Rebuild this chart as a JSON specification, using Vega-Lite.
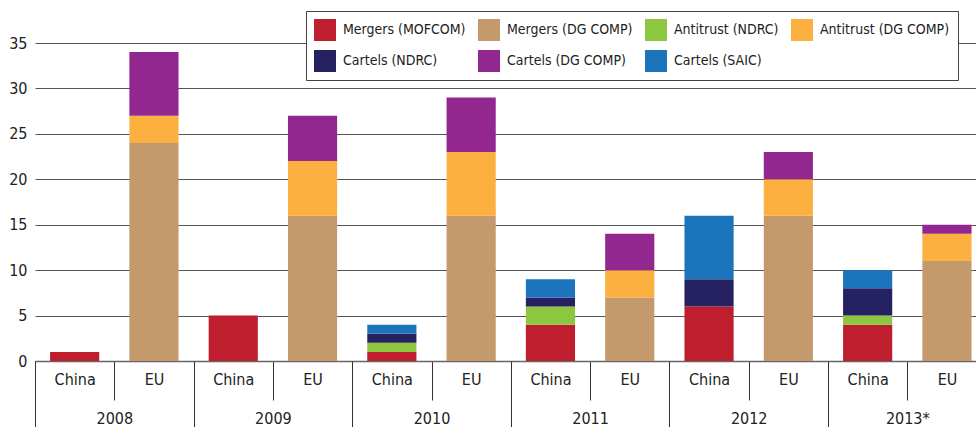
{
  "$schema": "https://vega.github.io/schema/vega-lite/v6.json",
  "width": 941,
  "height": 318,
  "autosize": {"type": "none"},
  "padding": {"left": 35, "top": 43, "right": 0, "bottom": 66},
  "background": "white",
  "config": {
    "font": "DejaVu Sans Condensed, Roboto, sans-serif",
    "view": {"stroke": null}
  },
  "data": {
    "values": [
      {"year": "2008", "region": "China", "bar": "2008 China", "type": "Mergers (MOFCOM)", "value": 1},
      {"year": "2008", "region": "EU", "bar": "2008 EU", "type": "Mergers (DG COMP)", "value": 24},
      {"year": "2008", "region": "EU", "bar": "2008 EU", "type": "Antitrust (DG COMP)", "value": 3},
      {"year": "2008", "region": "EU", "bar": "2008 EU", "type": "Cartels (DG COMP)", "value": 7},
      {"year": "2009", "region": "China", "bar": "2009 China", "type": "Mergers (MOFCOM)", "value": 5},
      {"year": "2009", "region": "EU", "bar": "2009 EU", "type": "Mergers (DG COMP)", "value": 16},
      {"year": "2009", "region": "EU", "bar": "2009 EU", "type": "Antitrust (DG COMP)", "value": 6},
      {"year": "2009", "region": "EU", "bar": "2009 EU", "type": "Cartels (DG COMP)", "value": 5},
      {"year": "2010", "region": "China", "bar": "2010 China", "type": "Mergers (MOFCOM)", "value": 1},
      {"year": "2010", "region": "China", "bar": "2010 China", "type": "Antitrust (NDRC)", "value": 1},
      {"year": "2010", "region": "China", "bar": "2010 China", "type": "Cartels (NDRC)", "value": 1},
      {"year": "2010", "region": "China", "bar": "2010 China", "type": "Cartels (SAIC)", "value": 1},
      {"year": "2010", "region": "EU", "bar": "2010 EU", "type": "Mergers (DG COMP)", "value": 16},
      {"year": "2010", "region": "EU", "bar": "2010 EU", "type": "Antitrust (DG COMP)", "value": 7},
      {"year": "2010", "region": "EU", "bar": "2010 EU", "type": "Cartels (DG COMP)", "value": 6},
      {"year": "2011", "region": "China", "bar": "2011 China", "type": "Mergers (MOFCOM)", "value": 4},
      {"year": "2011", "region": "China", "bar": "2011 China", "type": "Antitrust (NDRC)", "value": 2},
      {"year": "2011", "region": "China", "bar": "2011 China", "type": "Cartels (NDRC)", "value": 1},
      {"year": "2011", "region": "China", "bar": "2011 China", "type": "Cartels (SAIC)", "value": 2},
      {"year": "2011", "region": "EU", "bar": "2011 EU", "type": "Mergers (DG COMP)", "value": 7},
      {"year": "2011", "region": "EU", "bar": "2011 EU", "type": "Antitrust (DG COMP)", "value": 3},
      {"year": "2011", "region": "EU", "bar": "2011 EU", "type": "Cartels (DG COMP)", "value": 4},
      {"year": "2012", "region": "China", "bar": "2012 China", "type": "Mergers (MOFCOM)", "value": 6},
      {"year": "2012", "region": "China", "bar": "2012 China", "type": "Cartels (NDRC)", "value": 3},
      {"year": "2012", "region": "China", "bar": "2012 China", "type": "Cartels (SAIC)", "value": 7},
      {"year": "2012", "region": "EU", "bar": "2012 EU", "type": "Mergers (DG COMP)", "value": 16},
      {"year": "2012", "region": "EU", "bar": "2012 EU", "type": "Antitrust (DG COMP)", "value": 4},
      {"year": "2012", "region": "EU", "bar": "2012 EU", "type": "Cartels (DG COMP)", "value": 3},
      {"year": "2013*", "region": "China", "bar": "2013* China", "type": "Mergers (MOFCOM)", "value": 4},
      {"year": "2013*", "region": "China", "bar": "2013* China", "type": "Antitrust (NDRC)", "value": 1},
      {"year": "2013*", "region": "China", "bar": "2013* China", "type": "Cartels (NDRC)", "value": 3},
      {"year": "2013*", "region": "China", "bar": "2013* China", "type": "Cartels (SAIC)", "value": 2},
      {"year": "2013*", "region": "EU", "bar": "2013* EU", "type": "Mergers (DG COMP)", "value": 11},
      {"year": "2013*", "region": "EU", "bar": "2013* EU", "type": "Antitrust (DG COMP)", "value": 3},
      {"year": "2013*", "region": "EU", "bar": "2013* EU", "type": "Cartels (DG COMP)", "value": 1}
    ]
  },
  "layer": [
    {
      "transform": [
        {"calculate": "indexof(['Mergers (MOFCOM)', 'Mergers (DG COMP)', 'Antitrust (NDRC)', 'Antitrust (DG COMP)', 'Cartels (NDRC)', 'Cartels (DG COMP)', 'Cartels (SAIC)'], datum.type)", "as": "stackOrder"}
      ],
      "mark": {"type": "bar", "width": {"band": 0.62}},
      "encoding": {
        "x": {
          "field": "bar",
          "type": "nominal",
          "scale": {"type": "band", "range": [0, 951.6], "paddingInner": 0, "paddingOuter": 0},
          "axis": {
            "title": null,
            "orient": "bottom",
            "labelExpr": "split(datum.value, ' ')[1]",
            "labelAngle": 0,
            "tickBand": "extent",
            "tickSize": 39,
            "tickColor": "#333",
            "tickWidth": 1,
            "domainColor": "#666",
            "domainWidth": 1.5,
            "labelPadding": -29,
            "labelFontSize": 16,
            "labelColor": "#222",
            "labelOverlap": false
          }
        },
        "y": {
          "field": "value",
          "type": "quantitative",
          "stack": "zero",
          "scale": {"domain": [0, 35], "nice": false},
          "axis": {
            "title": null,
            "values": [0, 5, 10, 15, 20, 25, 30, 35],
            "domain": false,
            "ticks": false,
            "grid": true,
            "gridColor": "#555",
            "gridWidth": 1,
            "labelPadding": 8,
            "labelFontSize": 16,
            "labelColor": "#222"
          }
        },
        "order": {"field": "stackOrder", "type": "quantitative", "sort": "ascending"},
        "color": {
          "field": "type",
          "type": "nominal",
          "sort": ["Mergers (MOFCOM)", "Mergers (DG COMP)", "Antitrust (NDRC)", "Antitrust (DG COMP)", "Cartels (NDRC)", "Cartels (DG COMP)", "Cartels (SAIC)"],
          "scale": {
            "domain": ["Mergers (MOFCOM)", "Mergers (DG COMP)", "Antitrust (NDRC)", "Antitrust (DG COMP)", "Cartels (NDRC)", "Cartels (DG COMP)", "Cartels (SAIC)"],
            "range": ["#BE1E2D", "#C49A6C", "#8DC63F", "#FBB040", "#262262", "#92278F", "#1C75BC"]
          },
          "legend": {
            "title": null,
            "orient": "none",
            "legendX": 271,
            "legendY": -32,
            "direction": "horizontal",
            "columns": 4,
            "symbolType": "square",
            "symbolSize": 484,
            "symbolStrokeWidth": 0,
            "symbolOpacity": 1,
            "labelFontSize": 14,
            "labelColor": "#222",
            "labelOffset": 7,
            "labelLimit": 300,
            "padding": 8,
            "rowPadding": 9,
            "columnPadding": 12,
            "fillColor": "white",
            "strokeColor": "#444"
          }
        }
      }
    },
    {
      "mark": {"type": "text", "text": ""},
      "encoding": {
        "x": {
          "field": "year",
          "type": "nominal",
          "scale": {"type": "band", "range": [0, 951.6], "paddingInner": 0, "paddingOuter": 0},
          "axis": {
            "title": null,
            "orient": "bottom",
            "labelAngle": 0,
            "tickBand": "extent",
            "tickSize": 66,
            "tickColor": "#333",
            "tickWidth": 1,
            "domain": false,
            "labelPadding": -17,
            "labelFontSize": 16,
            "labelColor": "#222"
          }
        }
      }
    }
  ],
  "resolve": {"scale": {"x": "independent"}, "axis": {"x": "independent"}}
}
